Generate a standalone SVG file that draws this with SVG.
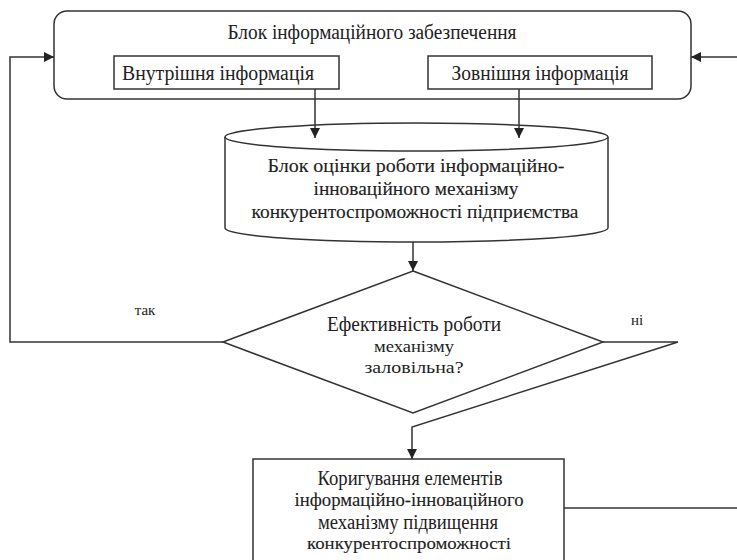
<svg xmlns="http://www.w3.org/2000/svg" width="737" height="560" viewBox="0 0 737 560">
<defs>
<marker id="arr" viewBox="0 0 10 10" refX="10" refY="5" markerWidth="10" markerHeight="10" markerUnits="userSpaceOnUse" orient="auto">
<path d="M0,0 L10,5 L0,10 z" fill="#222"/>
</marker>
<style>
.s{fill:#fff;stroke:#333;stroke-width:1.5}
.c{fill:none;stroke:#333;stroke-width:1.5}
.tx{fill:#222;text-anchor:middle;font-family:'Liberation Serif','Times New Roman',serif}
.b{stroke:#222;stroke-width:0.12}
</style>
</defs>
<rect width="737" height="560" fill="#fff"/>
<g id="info-block">
<rect class="s" x="54" y="11" width="637" height="88" rx="13"/>
<text class="tx" font-size="20" x="372" y="39" textLength="289" lengthAdjust="spacingAndGlyphs">Блок інформаційного забезпечення</text>
</g>
<g id="internal">
<rect class="s" x="114" y="56" width="225" height="33"/>
<text class="tx" font-size="20" x="218" y="80" textLength="192" lengthAdjust="spacingAndGlyphs">Внутрішня інформація</text>
</g>
<g id="external">
<rect class="s" x="428" y="56" width="224" height="33"/>
<text class="tx" font-size="20" x="540" y="80" textLength="177" lengthAdjust="spacingAndGlyphs">Зовнішня інформація</text>
</g>
<g id="evaluation">
<path class="s" d="M225,137 L225,228 A191.5,14 0 0 0 608,228 L608,137"/>
<ellipse class="s" cx="416.5" cy="137" rx="191.5" ry="14"/>
<text class="tx b" font-size="19" x="416" y="172" textLength="297" lengthAdjust="spacingAndGlyphs">Блок оцінки роботи інформаційно-</text>
<text class="tx b" font-size="19" x="416" y="195" textLength="205" lengthAdjust="spacingAndGlyphs">інноваційного механізму</text>
<text class="tx b" font-size="19" x="415" y="218" textLength="327" lengthAdjust="spacingAndGlyphs">конкурентоспроможності підприємства</text>
</g>
<g id="decision">
<polygon class="s" points="413,271 603,342 413,413 223,342"/>
<text class="tx" font-size="20" x="414" y="331" textLength="174" lengthAdjust="spacingAndGlyphs">Ефективність роботи</text>
<text class="tx" font-size="17" x="414" y="352" textLength="80" lengthAdjust="spacingAndGlyphs">механізму</text>
<text class="tx" font-size="17" x="414" y="373" textLength="99" lengthAdjust="spacingAndGlyphs">заловільна?</text>
</g>
<g id="correction">
<rect class="s" x="253" y="459" width="311" height="120"/>
<text class="tx" font-size="20" x="410" y="485" textLength="185" lengthAdjust="spacingAndGlyphs">Коригування елементів</text>
<text class="tx b" font-size="18" x="409" y="506" textLength="229" lengthAdjust="spacingAndGlyphs">інформаційно-інноваційного</text>
<text class="tx" font-size="20" x="408" y="529" textLength="180" lengthAdjust="spacingAndGlyphs">механізму підвищення</text>
<text class="tx b" font-size="17" x="409" y="549" textLength="204" lengthAdjust="spacingAndGlyphs">конкурентоспроможності</text>
</g>
<g id="connectors">
<path class="c" d="M315,89 L315,138" marker-end="url(#arr)"/>
<path class="c" d="M519,89 L519,138" marker-end="url(#arr)"/>
<path class="c" d="M413,242 L413,271" marker-end="url(#arr)"/>
<path class="c" d="M223,342 L10,342 L10,57 L54,57" marker-end="url(#arr)"/>
<path class="c" d="M737,57 L691,57" marker-end="url(#arr)"/>
<path class="c" d="M603,342 L678,342 L412,427 L412,459" marker-end="url(#arr)"/>
<path class="c" d="M564,508 L737,508"/>
<text class="tx" font-size="15" x="145" y="315">так</text>
<text class="tx" font-size="15" x="637" y="325">ні</text>
</g>
</svg>
